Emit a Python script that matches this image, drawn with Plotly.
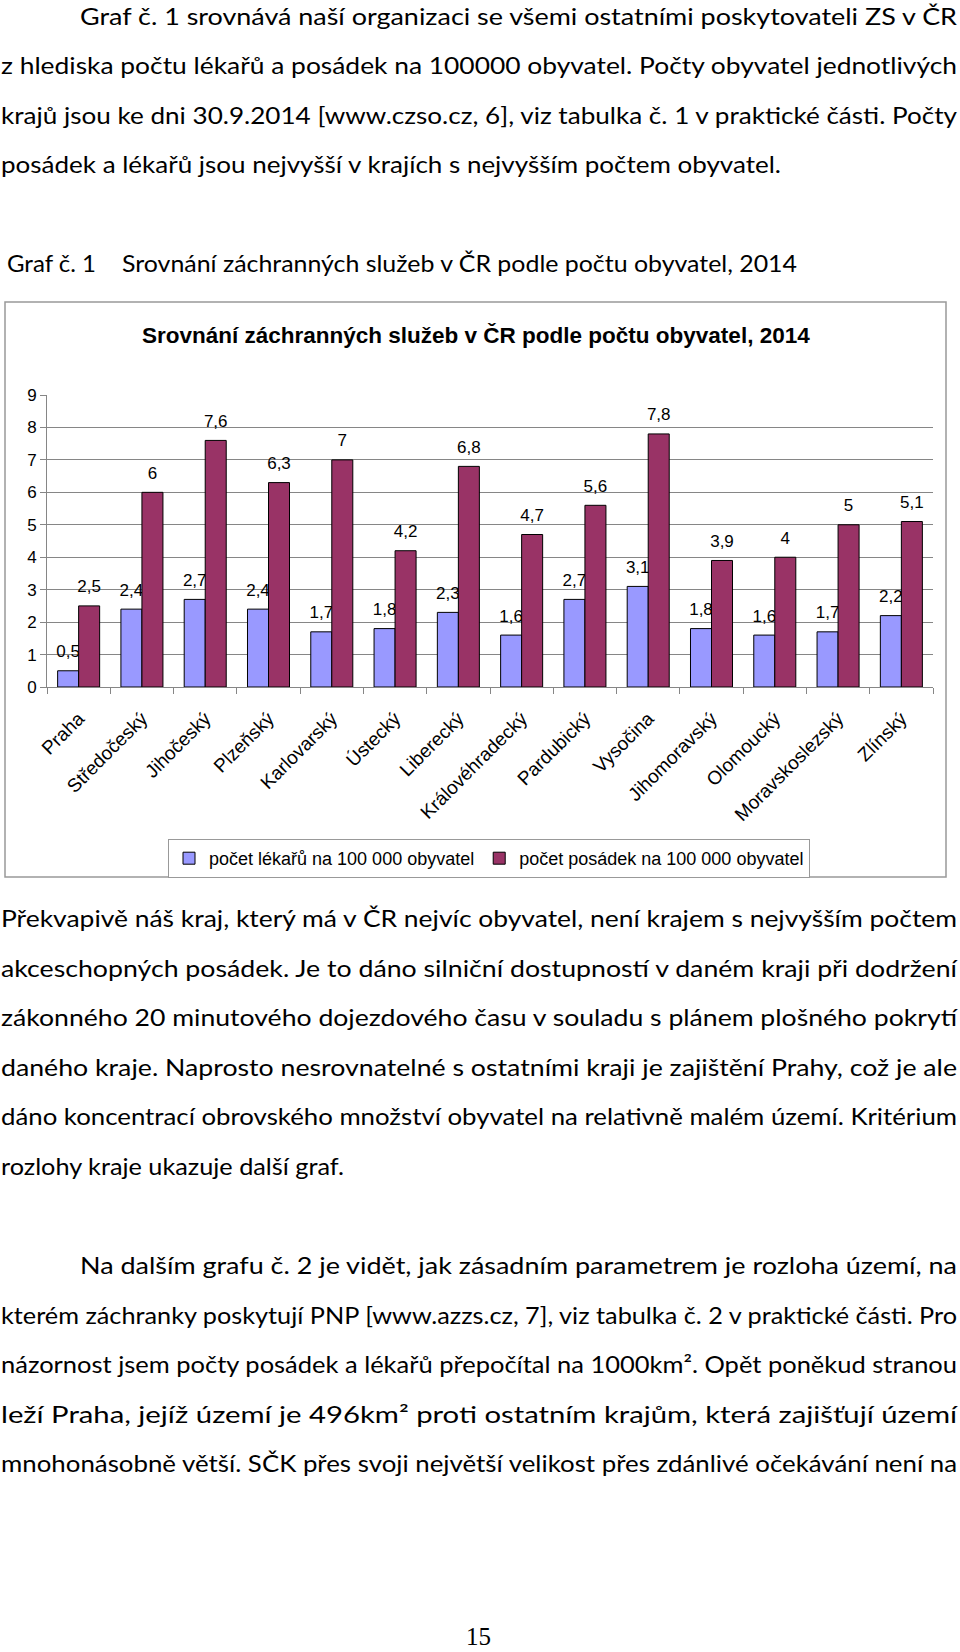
import json
import plotly.graph_objects as go

# ---------------- data ----------------
regions = ["Praha", "Středočeský", "Jihočeský", "Plzeňský", "Karlovarský", "Ústecký",
           "Liberecký", "Královéhradecký", "Pardubický", "Vysočina", "Jihomoravský",
           "Olomoucký", "Moravskoslezský", "Zlínský"]
doctors_per_100k = [0.5, 2.4, 2.7, 2.4, 1.7, 1.8, 2.3, 1.6, 2.7, 3.1, 1.8, 1.6, 1.7, 2.2]
crews_per_100k = [2.5, 6, 7.6, 6.3, 7, 4.2, 6.8, 4.7, 5.6, 7.8, 3.9, 4, 5, 5.1]
series_names = ["počet lékařů na 100 000 obyvatel", "počet posádek na 100 000 obyvatel"]
y_ticks = [0, 1, 2, 3, 4, 5, 6, 7, 8, 9]

chart_title = "Srovnání záchranných služeb v ČR podle počtu obyvatel, 2014"
caption_num = "Graf č. 1"
caption_text = "Srovnání záchranných služeb v ČR podle počtu obyvatel, 2014"

para1 = [
    "Graf č. 1 srovnává naší organizaci se všemi ostatními poskytovateli ZS v ČR",
    "z hlediska počtu lékařů a posádek na 100000 obyvatel. Počty obyvatel jednotlivých",
    "krajů jsou ke dni 30.9.2014 [www.czso.cz, 6], viz tabulka č. 1 v praktické části. Počty",
    "posádek a lékařů jsou nejvyšší v krajích s nejvyšším počtem obyvatel.",
]
para2 = [
    "Překvapivě náš kraj, který má v ČR nejvíc obyvatel, není krajem s nejvyšším počtem",
    "akceschopných posádek. Je to dáno silniční dostupností v daném kraji při dodržení",
    "zákonného 20 minutového dojezdového času v souladu s plánem plošného pokrytí",
    "daného kraje. Naprosto nesrovnatelné s ostatními kraji je zajištění Prahy, což je ale",
    "dáno koncentrací obrovského množství obyvatel na relativně malém území. Kritérium",
    "rozlohy kraje ukazuje další graf.",
]
para3 = [
    "Na dalším grafu č. 2 je vidět, jak zásadním parametrem je rozloha území, na",
    "kterém záchranky poskytují PNP [www.azzs.cz, 7], viz tabulka č. 2 v praktické části. Pro",
    "názornost jsem počty posádek a lékařů přepočítal na 1000km². Opět poněkud stranou",
    "leží Praha, jejíž území je 496km² proti ostatním krajům, která zajišťují území",
    "mnohonásobně větší. SČK přes svoji největší velikost přes zdánlivé očekávání není na",
]
page_number = "15"

# ---------------- layout helpers ----------------
W, H = 960, 1652
def px(x):
    return x / W
def py(y):
    return 1 - y / H

BLUE = "#9999FF"
MAROON = "#993366"
AXIS_GRAY = "#868686"
BODY_FONT = "Lato, Liberation Sans, sans-serif"
CHART_FONT = "Liberation Sans, Arial, sans-serif"
BODY_SIZE = 23
RIGHT_EDGE = 956

def fmt(v):
    return ("%g" % v).replace(".", ",")

bw = 0.332
lift = 0.2

fig = go.Figure()
for vals, color, name, off in [(doctors_per_100k, BLUE, series_names[0], -bw),
                               (crews_per_100k, MAROON, series_names[1], 0.0)]:
    fig.add_trace(go.Bar(
        x=regions, y=vals, name=name, offset=off, width=bw,
        marker=dict(color=color, line=dict(color="black", width=1)),
        hoverinfo="x+y",
    ))
    fig.add_trace(go.Bar(
        x=regions, y=[lift] * len(vals), base=vals, offset=off, width=bw,
        marker=dict(color="rgba(0,0,0,0)", line=dict(width=0)),
        text=[fmt(v) for v in vals], textposition="outside", constraintext="none",
        textfont=dict(family=CHART_FONT, size=17, color="black"),
        cliponaxis=False, showlegend=False, hoverinfo="skip",
    ))

annotations = []
fit_widths = {}  # annotation index -> target text width in px

annotations.append(dict(text="<b>%s</b>" % chart_title, x=px(476), y=py(335),
                        xref="paper", yref="paper", xanchor="center", yanchor="middle",
                        showarrow=False, font=dict(family=CHART_FONT, size=22.5, color="black")))

def add_text(t, x0, x1, yc, size=BODY_SIZE, family=BODY_FONT):
    fit_widths[len(annotations)] = x1 - x0
    annotations.append(dict(text=t, x=px(x0), y=py(yc), xref="paper", yref="paper",
                            xanchor="left", yanchor="middle", showarrow=False, align="left",
                            borderpad=0, font=dict(family=family, size=size, color="black")))

def add_par(lines, y0, x_first, last_end, step=49.5):
    for i, t in enumerate(lines):
        x0 = x_first if i == 0 else 0
        x1 = last_end if i == len(lines) - 1 else RIGHT_EDGE
        add_text(t, x0, x1, y0 + i * step)

add_par(para1, 16, 79, 780)
add_par(para2, 918, 0, 343)
add_par(para3, 1265, 79, RIGHT_EDGE)

add_text(caption_num, 6, 95, 263)
add_text(caption_text, 121, 796, 263)

annotations.append(dict(text=page_number, x=px(478), y=py(1651), xref="paper", yref="paper",
                        xanchor="center", yanchor="bottom", showarrow=False, borderpad=0,
                        font=dict(family="Liberation Serif, Times New Roman, serif", size=25, color="black")))

fig.update_layout(
    width=W, height=H, autosize=False,
    margin=dict(l=0, r=0, t=0, b=0),
    paper_bgcolor="white", plot_bgcolor="white",
    barmode="overlay",
    font=dict(family=CHART_FONT, size=16, color="black"),
    separators=", ",
    xaxis=dict(domain=[px(47), px(933)], type="category", range=[-0.5, 13.5],
               showline=True, linecolor=AXIS_GRAY, linewidth=1,
               ticks="outside", tickson="boundaries", ticklen=6, tickcolor=AXIS_GRAY,
               tickangle=-45, tickfont=dict(size=19, family=CHART_FONT),
               ticklabelstandoff=12, automargin=False,
               showgrid=False, zeroline=False),
    yaxis=dict(domain=[py(687), py(395)], range=[0, 9], tickvals=y_ticks,
               showline=True, linecolor=AXIS_GRAY, linewidth=1,
               ticks="outside", ticklen=6, tickcolor=AXIS_GRAY, automargin=False,
               showgrid=True, gridcolor=AXIS_GRAY, gridwidth=1, zeroline=False,
               tickfont=dict(size=17, family=CHART_FONT)),
    legend=dict(orientation="h", x=px(489), xanchor="center", y=py(839), yanchor="top",
                bordercolor="#999999", borderwidth=1, bgcolor="white", itemwidth=30,
                font=dict(size=18, family=CHART_FONT), traceorder="normal"),
    shapes=[dict(type="rect", xref="paper", yref="paper", x0=px(5), x1=px(946),
                 y0=py(877), y1=py(302), line=dict(color="#999999", width=1.5))],
    annotations=annotations,
    showlegend=True,
)

post_js = (
    "document.body.style.margin='0';"
    "var fw=" + json.dumps({str(k): v for k, v in fit_widths.items()}) + ";"
    "var gd=document.getElementById('{plot_id}');"
    "gd.querySelectorAll('g.annotation').forEach(function(g){"
    "var i=g.getAttribute('data-index');"
    "if(fw[i]!==undefined){var t=g.querySelector('text.annotation-text');"
    "if(t){t.setAttribute('textLength',fw[i]);t.setAttribute('lengthAdjust','spacingAndGlyphs');}}"
    "});"
)

fig.write_html("out.html", post_script=post_js, config={"displayModeBar": False})
